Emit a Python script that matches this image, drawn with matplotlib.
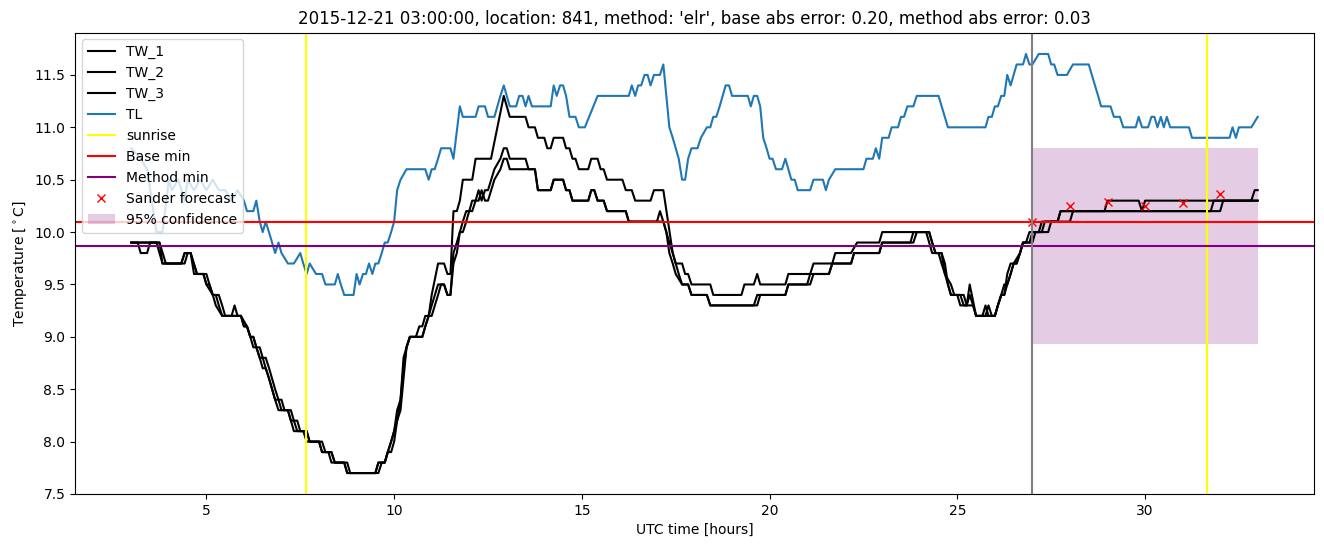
import matplotlib
matplotlib.use("Agg")
import matplotlib.pyplot as plt

# (time [h], temperature [C]) observations
TW_1 = [(3.0, 9.9), (3.67, 9.9), (3.83, 9.7), (4.33, 9.7), (4.42, 9.8), (4.58, 9.8), (4.75, 9.6), (4.92, 9.6),
        (5.0, 9.5), (5.08, 9.5), (5.17, 9.4), (5.25, 9.4), (5.33, 9.3), (5.42, 9.2), (5.67, 9.2), (5.75, 9.3),
        (5.83, 9.2), (5.92, 9.2), (6.0, 9.1), (6.08, 9.1), (6.17, 9.0), (6.25, 9.0), (6.33, 8.9), (6.42, 8.8),
        (6.5, 8.8), (6.58, 8.7), (6.67, 8.6), (6.75, 8.5), (6.83, 8.4), (6.92, 8.4), (7.0, 8.3), (7.17, 8.3),
        (7.25, 8.2), (7.33, 8.2), (7.42, 8.1), (7.67, 8.1), (7.75, 8.0), (8.0, 8.0), (8.08, 7.9), (8.33, 7.9),
        (8.42, 7.8), (8.67, 7.8), (8.75, 7.7), (9.5, 7.7), (9.58, 7.8), (9.75, 7.8), (9.83, 7.9), (9.92, 8.0),
        (10.0, 8.1), (10.08, 8.2), (10.17, 8.4), (10.25, 8.7), (10.33, 8.9), (10.42, 9.0), (10.58, 9.0),
        (10.67, 9.1), (10.75, 9.1), (10.83, 9.2), (10.92, 9.2), (11.0, 9.4), (11.17, 9.7), (11.33, 9.7),
        (11.42, 9.6), (11.5, 9.6), (11.58, 10.2), (11.67, 10.2), (11.75, 10.3), (11.83, 10.5), (12.08, 10.5),
        (12.17, 10.7), (12.58, 10.7), (12.75, 11.0), (12.92, 11.3), (13.08, 11.1), (13.5, 11.1), (13.58, 11.0),
        (13.75, 11.0), (13.83, 10.9), (14.0, 10.9), (14.08, 10.8), (14.17, 10.8), (14.25, 10.9), (14.5, 10.9),
        (14.58, 10.8), (14.67, 10.8), (14.75, 10.7), (14.83, 10.7), (14.92, 10.6), (15.17, 10.6), (15.25, 10.7),
        (15.42, 10.7), (15.5, 10.6), (15.58, 10.6), (15.67, 10.5), (16.08, 10.5), (16.17, 10.4), (16.33, 10.4),
        (16.42, 10.3), (16.83, 10.3), (16.92, 10.4), (17.17, 10.4), (17.42, 9.8), (17.5, 9.7), (17.67, 9.7),
        (17.75, 9.6), (17.83, 9.6), (17.92, 9.5), (18.42, 9.5), (18.5, 9.4), (19.25, 9.4), (19.33, 9.5),
        (19.58, 9.5), (19.67, 9.6), (19.75, 9.5), (20.42, 9.5), (20.5, 9.6), (21.08, 9.6), (21.17, 9.7),
        (21.67, 9.7), (21.75, 9.8), (22.17, 9.8), (22.33, 9.9), (22.92, 9.9), (23.0, 10.0), (24.25, 10.0),
        (24.33, 9.9), (24.42, 9.8), (24.58, 9.8), (24.67, 9.7), (24.75, 9.5), (24.83, 9.4), (25.0, 9.4),
        (25.08, 9.3), (25.25, 9.3), (25.33, 9.5), (25.5, 9.2), (25.67, 9.2), (25.75, 9.3), (25.83, 9.2),
        (26.0, 9.2), (26.08, 9.3), (26.17, 9.4), (26.25, 9.4), (26.33, 9.6), (26.42, 9.7), (26.58, 9.7),
        (26.67, 9.8), (26.75, 9.9), (26.92, 9.9), (27.0, 10.0), (27.17, 10.0), (27.25, 10.1), (27.67, 10.1),
        (27.75, 10.2), (28.92, 10.2), (29.0, 10.3), (29.83, 10.3), (29.92, 10.2), (30.0, 10.3), (32.83, 10.3),
        (32.92, 10.4), (33.0, 10.4)]

TW_2 = [(3.0, 9.9), (3.17, 9.9), (3.25, 9.8), (3.42, 9.8), (3.5, 9.9), (3.75, 9.9), (3.92, 9.7), (4.42, 9.7),
        (4.5, 9.8), (4.58, 9.8), (4.75, 9.6), (5.0, 9.6), (5.08, 9.5), (5.17, 9.4), (5.33, 9.4), (5.42, 9.3),
        (5.5, 9.2), (5.92, 9.2), (6.08, 9.1), (6.17, 9.0), (6.25, 9.0), (6.33, 8.9), (6.42, 8.9), (6.5, 8.8),
        (6.58, 8.8), (6.67, 8.7), (6.75, 8.6), (6.83, 8.5), (6.92, 8.4), (7.0, 8.4), (7.08, 8.3), (7.25, 8.3),
        (7.33, 8.2), (7.42, 8.2), (7.5, 8.1), (7.67, 8.1), (7.75, 8.0), (8.08, 8.0), (8.17, 7.9), (8.33, 7.9),
        (8.42, 7.8), (8.75, 7.8), (8.83, 7.7), (9.58, 7.7), (9.67, 7.8), (9.75, 7.8), (9.83, 7.9), (9.92, 7.9),
        (10.0, 8.0), (10.08, 8.2), (10.17, 8.3), (10.25, 8.6), (10.33, 8.9), (10.42, 9.0), (10.75, 9.0),
        (10.83, 9.1), (10.92, 9.2), (11.0, 9.3), (11.17, 9.5), (11.33, 9.5), (11.42, 9.4), (11.5, 9.4),
        (11.58, 9.8), (11.67, 9.9), (11.75, 10.0), (11.83, 10.1), (11.92, 10.2), (12.0, 10.2), (12.08, 10.3),
        (12.17, 10.3), (12.25, 10.4), (12.33, 10.3), (12.42, 10.4), (12.5, 10.4), (12.67, 10.6), (12.83, 10.7),
        (12.92, 10.8), (13.0, 10.8), (13.08, 10.7), (13.5, 10.7), (13.58, 10.6), (13.75, 10.6), (13.83, 10.4),
        (14.17, 10.4), (14.25, 10.5), (14.5, 10.5), (14.58, 10.4), (14.67, 10.4), (14.75, 10.3), (15.17, 10.3),
        (15.25, 10.4), (15.33, 10.4), (15.42, 10.3), (15.58, 10.3), (15.67, 10.2), (16.17, 10.2), (16.25, 10.1),
        (17.0, 10.1), (17.08, 10.2), (17.17, 10.1), (17.25, 10.0), (17.33, 9.9), (17.42, 9.8), (17.5, 9.7),
        (17.58, 9.6), (17.67, 9.5), (17.83, 9.5), (17.92, 9.4), (18.33, 9.4), (18.42, 9.3), (19.67, 9.3),
        (19.75, 9.4), (20.42, 9.4), (20.5, 9.5), (21.08, 9.5), (21.17, 9.6), (21.58, 9.6), (21.67, 9.7),
        (22.17, 9.7), (22.25, 9.8), (22.92, 9.8), (23.0, 9.9), (23.75, 9.9), (23.83, 10.0), (24.17, 10.0),
        (24.25, 9.9), (24.33, 9.8), (24.5, 9.8), (24.58, 9.7), (24.67, 9.6), (24.75, 9.5), (24.83, 9.4),
        (25.08, 9.4), (25.17, 9.3), (25.25, 9.3), (25.33, 9.4), (25.42, 9.3), (25.5, 9.2), (25.75, 9.2),
        (25.83, 9.3), (25.92, 9.2), (26.0, 9.2), (26.08, 9.3), (26.17, 9.4), (26.25, 9.5), (26.33, 9.5),
        (26.42, 9.6), (26.5, 9.7), (26.67, 9.8), (26.75, 9.9), (26.83, 9.9), (26.92, 10.0), (27.25, 10.0),
        (27.33, 10.1), (27.67, 10.1), (27.75, 10.2), (31.75, 10.2), (31.83, 10.3), (33.0, 10.3)]

TW_3 = [(3.0, 9.9), (3.75, 9.9), (3.83, 9.7), (4.33, 9.7), (4.42, 9.8), (4.58, 9.8), (4.67, 9.6), (4.92, 9.6),
        (5.0, 9.5), (5.17, 9.4), (5.25, 9.3), (5.42, 9.2), (5.92, 9.2), (6.0, 9.1), (6.08, 9.1), (6.17, 9.0),
        (6.25, 8.9), (6.33, 8.9), (6.42, 8.8), (6.5, 8.7), (6.58, 8.7), (6.67, 8.6), (6.75, 8.5), (6.83, 8.4),
        (6.92, 8.3), (7.17, 8.3), (7.25, 8.2), (7.33, 8.1), (7.58, 8.1), (7.67, 8.0), (8.0, 8.0), (8.08, 7.9),
        (8.25, 7.9), (8.33, 7.8), (8.67, 7.8), (8.75, 7.7), (9.5, 7.7), (9.58, 7.8), (9.75, 7.8), (9.83, 7.9),
        (9.92, 8.0), (10.0, 8.1), (10.08, 8.3), (10.17, 8.4), (10.25, 8.8), (10.33, 8.9), (10.42, 9.0),
        (10.75, 9.0), (10.83, 9.1), (10.92, 9.2), (11.0, 9.2), (11.17, 9.4), (11.25, 9.5), (11.33, 9.5),
        (11.42, 9.4), (11.5, 9.4), (11.58, 9.7), (11.67, 9.8), (11.75, 10.0), (11.83, 10.0), (11.92, 10.1),
        (12.0, 10.2), (12.08, 10.2), (12.17, 10.3), (12.25, 10.3), (12.33, 10.4), (12.42, 10.3), (12.5, 10.3),
        (12.67, 10.5), (12.83, 10.6), (12.92, 10.7), (13.0, 10.7), (13.08, 10.6), (13.75, 10.6), (13.83, 10.4),
        (14.17, 10.4), (14.25, 10.5), (14.5, 10.5), (14.58, 10.4), (14.67, 10.4), (14.75, 10.3), (15.17, 10.3),
        (15.25, 10.4), (15.33, 10.4), (15.42, 10.3), (15.58, 10.3), (15.67, 10.2), (16.17, 10.2), (16.25, 10.1),
        (17.17, 10.1), (17.25, 10.0), (17.33, 9.8), (17.42, 9.7), (17.5, 9.6), (17.67, 9.5), (17.83, 9.5),
        (17.92, 9.4), (18.33, 9.4), (18.42, 9.3), (19.58, 9.3), (19.67, 9.4), (20.42, 9.4), (20.5, 9.5),
        (21.0, 9.5), (21.08, 9.6), (21.58, 9.6), (21.67, 9.7), (22.17, 9.7), (22.25, 9.8), (22.92, 9.8),
        (23.0, 9.9), (23.83, 9.9), (23.92, 10.0), (24.25, 10.0), (24.33, 9.9), (24.42, 9.8), (24.58, 9.8),
        (24.67, 9.6), (24.83, 9.5), (24.92, 9.4), (25.17, 9.4), (25.25, 9.3), (25.42, 9.3), (25.5, 9.2),
        (25.83, 9.2), (26.0, 9.2), (26.08, 9.3), (26.17, 9.4), (26.25, 9.4), (26.33, 9.5), (26.42, 9.6),
        (26.5, 9.7), (26.58, 9.7), (26.67, 9.8), (26.75, 9.9), (27.0, 9.9), (27.08, 10.0), (27.42, 10.0),
        (27.5, 10.1), (28.0, 10.1), (28.08, 10.2), (32.0, 10.2), (32.08, 10.3), (33.0, 10.3)]

TL = [(3.0, 10.8), (3.25, 10.7), (3.42, 10.6), (3.67, 10.0), (3.83, 10.0), (4.0, 10.5), (4.08, 10.4),
      (4.25, 10.5), (4.42, 10.3), (4.5, 10.5), (4.67, 10.4), (4.83, 10.5), (5.0, 10.4), (5.17, 10.5),
      (5.33, 10.4), (5.5, 10.4), (5.67, 10.3), (5.83, 10.4), (6.0, 10.3), (6.08, 10.2), (6.25, 10.2),
      (6.33, 10.3), (6.42, 10.1), (6.5, 10.0), (6.58, 10.1), (6.75, 9.9), (6.83, 9.8), (6.92, 9.9),
      (7.0, 9.8), (7.17, 9.7), (7.33, 9.7), (7.5, 9.8), (7.58, 9.7), (7.67, 9.6), (7.75, 9.7), (7.92, 9.6),
      (8.08, 9.6), (8.17, 9.5), (8.42, 9.5), (8.5, 9.6), (8.58, 9.5), (8.67, 9.4), (8.92, 9.4), (9.0, 9.6),
      (9.08, 9.5), (9.17, 9.6), (9.25, 9.6), (9.33, 9.7), (9.42, 9.6), (9.5, 9.7), (9.58, 9.7), (9.67, 9.8),
      (9.75, 9.9), (9.83, 9.9), (9.92, 10.0), (10.0, 10.1), (10.08, 10.4), (10.17, 10.5), (10.33, 10.6),
      (10.83, 10.6), (10.92, 10.5), (11.0, 10.6), (11.08, 10.6), (11.17, 10.7), (11.25, 10.8), (11.5, 10.8),
      (11.58, 10.7), (11.75, 11.2), (11.83, 11.1), (12.17, 11.1), (12.25, 11.2), (12.42, 11.2), (12.5, 11.1),
      (12.67, 11.1), (12.75, 11.2), (12.83, 11.3), (12.92, 11.4), (13.0, 11.3), (13.08, 11.2), (13.25, 11.2),
      (13.33, 11.3), (13.42, 11.3), (13.5, 11.2), (13.58, 11.3), (13.67, 11.2), (14.17, 11.2), (14.25, 11.4),
      (14.33, 11.3), (14.42, 11.4), (14.5, 11.4), (14.58, 11.3), (14.67, 11.1), (14.83, 11.1), (14.92, 11.0),
      (15.08, 11.0), (15.42, 11.3), (16.25, 11.3), (16.33, 11.4), (16.42, 11.3), (16.5, 11.4), (16.58, 11.4),
      (16.67, 11.5), (16.75, 11.5), (16.83, 11.4), (16.92, 11.5), (17.08, 11.5), (17.17, 11.6), (17.33, 11.0),
      (17.42, 10.9), (17.5, 10.8), (17.58, 10.7), (17.67, 10.5), (17.75, 10.5), (17.83, 10.7), (17.92, 10.8),
      (18.08, 10.8), (18.17, 10.9), (18.33, 11.0), (18.42, 11.0), (18.5, 11.1), (18.58, 11.1), (18.67, 11.2),
      (18.75, 11.3), (18.83, 11.4), (18.92, 11.4), (19.0, 11.3), (19.42, 11.3), (19.5, 11.2), (19.58, 11.3),
      (19.67, 11.3), (19.75, 11.2), (19.83, 10.9), (19.92, 10.8), (20.0, 10.7), (20.08, 10.7), (20.17, 10.6),
      (20.33, 10.6), (20.42, 10.7), (20.5, 10.6), (20.58, 10.5), (20.67, 10.5), (20.75, 10.4), (21.08, 10.4),
      (21.17, 10.5), (21.42, 10.5), (21.5, 10.4), (21.58, 10.5), (21.75, 10.6), (22.5, 10.6), (22.58, 10.7),
      (22.75, 10.7), (22.83, 10.8), (22.92, 10.7), (23.0, 10.9), (23.17, 10.9), (23.25, 11.0), (23.42, 11.0),
      (23.5, 11.1), (23.58, 11.1), (23.67, 11.2), (23.83, 11.2), (23.92, 11.3), (24.5, 11.3), (24.75, 11.0),
      (25.75, 11.0), (25.83, 11.1), (25.92, 11.1), (26.0, 11.2), (26.08, 11.2), (26.17, 11.3), (26.25, 11.3),
      (26.33, 11.5), (26.42, 11.4), (26.58, 11.6), (26.75, 11.6), (26.83, 11.7), (26.92, 11.6), (27.0, 11.6),
      (27.17, 11.7), (27.42, 11.7), (27.5, 11.6), (27.58, 11.6), (27.67, 11.5), (27.92, 11.5), (28.08, 11.6),
      (28.5, 11.6), (28.75, 11.3), (28.83, 11.2), (29.08, 11.2), (29.17, 11.1), (29.33, 11.1), (29.42, 11.0),
      (29.75, 11.0), (29.83, 11.1), (29.92, 11.0), (30.08, 11.0), (30.17, 11.1), (30.25, 11.1), (30.33, 11.0),
      (30.42, 11.1), (30.5, 11.0), (30.58, 11.1), (30.67, 11.0), (31.17, 11.0), (31.25, 10.9), (32.25, 10.9),
      (32.33, 11.0), (32.42, 10.9), (32.5, 11.0), (32.83, 11.0), (33.0, 11.1)]

sunrise_hours = [7.65, 31.65]
base_min = 10.1
method_min = 9.87
forecast_start = 27.0
forecast_hours = [27, 28, 29, 30, 31, 32]
sander_forecast = [10.10, 10.25, 10.29, 10.25, 10.28, 10.36]
conf_hours = [27, 33]
conf_lower = [8.93, 8.93]
conf_upper = [10.8, 10.8]

title = ("2015-12-21 03:00:00, location: 841, method: 'elr', "
         "base abs error: 0.20, method abs error: 0.03")

fig = plt.figure(figsize=(13.24, 5.47), dpi=100)
ax = fig.add_axes([75 / 1324, 53 / 547, (1314 - 75) / 1324, (494 - 32.5) / 547])

for name, series in [("TW_1", TW_1), ("TW_2", TW_2), ("TW_3", TW_3)]:
    xs, ys = zip(*series)
    ax.plot(xs, ys, color="black", label=name)
xs, ys = zip(*TL)
ax.plot(xs, ys, color="#1f77b4", label="TL")

for i, h in enumerate(sunrise_hours):
    ax.axvline(h, color="yellow", label="sunrise" if i == 0 else None)
ax.axhline(base_min, color="red", label="Base min")
ax.axhline(method_min, color="purple", label="Method min")
ax.plot(forecast_hours, sander_forecast, "x", color="red", label="Sander forecast")
ax.fill_between(conf_hours, conf_lower, conf_upper, color="purple", alpha=0.2,
                linewidth=0, label="95% confidence")
ax.axvline(forecast_start, color="gray")

ax.set_xlim(1.5, 34.5)
ax.set_ylim(7.5, 11.905)
ax.set_title(title)
ax.set_xlabel("UTC time [hours]")
ax.set_ylabel("Temperature [$^\\circ$C]")
ax.legend(loc="upper left")

fig.savefig("out.png", dpi=100)
